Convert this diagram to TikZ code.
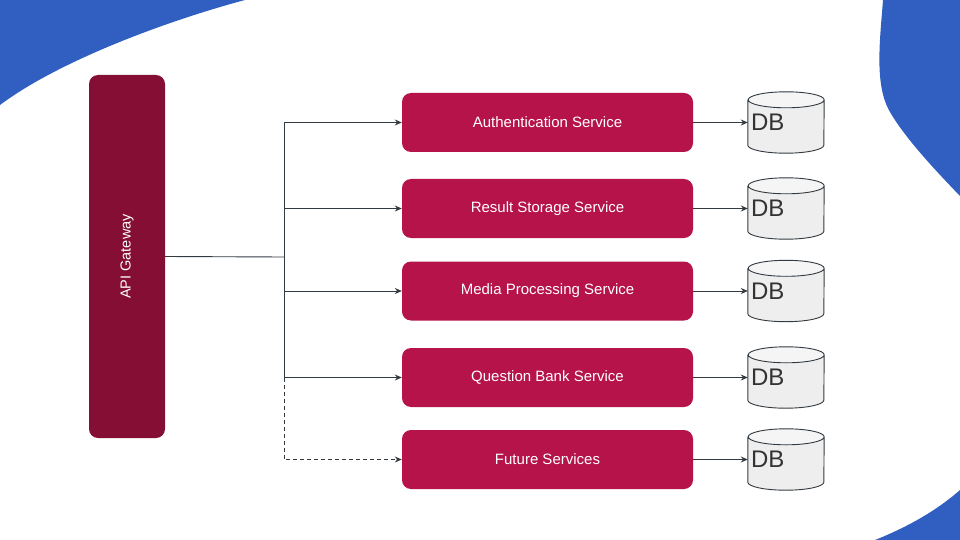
\documentclass[tikz,border=0pt]{standalone}
\usepackage{fontspec}
\setmainfont{Liberation Sans}
\usepackage{tikz}
\usetikzlibrary{arrows.meta, positioning, calc, backgrounds}
\definecolor{gatewayRed}{HTML}{850E35}
\definecolor{serviceRed}{HTML}{B5134A}
\definecolor{waveBlue}{HTML}{305FC1}
\definecolor{lineGray}{HTML}{333A40}
\definecolor{dbFill}{HTML}{EEEEEE}
\definecolor{dbTop}{HTML}{F5F5F5}
\definecolor{dbText}{HTML}{333333}

\begin{document}
\begin{tikzpicture}[x=1pt, y=-1pt,
    gateway/.style={rectangle, rounded corners=9pt, fill=gatewayRed, minimum width=76pt,
                    minimum height=363pt, inner sep=0pt, text=white, font=\fontsize{14.5}{16}\selectfont},
    service/.style={rectangle, rounded corners=9pt, fill=serviceRed, minimum width=291pt,
                    minimum height=59pt, inner sep=0pt, text=white, font=\fontsize{15}{17}\selectfont},
    dbbox/.style={rectangle, minimum width=76pt, minimum height=61pt, text width=70pt, inner xsep=3pt,
                  inner ysep=0pt, align=left, text=dbText, font=\fontsize{24}{26}\selectfont},
    dbline/.style={draw=lineGray, line width=0.9pt},
    link/.style={line width=0.9pt, color=lineGray},
    arrow/.style={-{Stealth[length=7pt, width=6pt]}, line width=0.9pt, color=lineGray},
]
\useasboundingbox (0,0) rectangle (960,540);

% Background waves
\fill[waveBlue] (0,0) -- (245,0) .. controls (170,20) and (60,60) .. (0,105) -- cycle;
\fill[waveBlue] (883,0) .. controls (880,40) and (874,85) .. (890,112)
    .. controls (905,138) and (935,170) .. (960,196) -- (960,0) -- cycle;
\fill[waveBlue] (875,540) .. controls (905,528) and (935,512) .. (960,490) -- (960,540) -- cycle;

% Gateway
\node[gateway] (gateway) at (127,256.5) {\rotatebox{90}{API Gateway}};

% Services
\node[service] (auth) at (547.5,122.5) {Authentication Service};
\node[service] (result) at (547.5,208.5) {Result Storage Service};
\node[service] (media) at (547.5,291) {Media Processing Service};
\node[service] (question) at (547.5,377.5) {Question Bank Service};
\node[service] (future) at (547.5,459.5) {Future Services};

% Databases
\node[dbbox] (db1) at (786,122.5) {DB};
\node[dbbox] (db2) at (786,208.5) {DB};
\node[dbbox] (db3) at (786,291) {DB};
\node[dbbox] (db4) at (786,377.5) {DB};
\node[dbbox] (db5) at (786,459.5) {DB};
\begin{scope}[on background layer]
\foreach \n in {db1,db2,db3,db4,db5} {
  \fill[dbFill] ($(\n.north west)+(0,8)$) -- ($(\n.south west)+(0,-8)$)
      arc[start angle=180, end angle=360, x radius=38pt, y radius=8pt]
      -- ($(\n.north east)+(0,8)$)
      arc[start angle=0, end angle=180, x radius=38pt, y radius=8pt] -- cycle;
  \fill[dbTop] ($(\n.north west)+(0,8)$)
      arc[start angle=180, end angle=540, x radius=38pt, y radius=8pt];
  \draw[dbline] ($(\n.north west)+(0,8)$) -- ($(\n.south west)+(0,-8)$)
      arc[start angle=180, end angle=360, x radius=38pt, y radius=8pt]
      -- ($(\n.north east)+(0,8)$)
      arc[start angle=0, end angle=180, x radius=38pt, y radius=8pt]
      arc[start angle=180, end angle=360, x radius=38pt, y radius=8pt];
}
\end{scope}

% Gateway to services
\coordinate (trunk) at (284,257);
\draw[link] (gateway.east) -- (trunk);
\draw[arrow] (trunk) |- (auth.west);
\draw[arrow] (trunk) |- (result.west);
\draw[arrow] (trunk) |- (media.west);
\draw[arrow] (trunk) |- (question.west);
\draw[arrow, dashed, dash pattern=on 4pt off 3pt] (trunk |- question.west) |- (future.west);

% Services to databases
\draw[arrow] (auth) -- (db1);
\draw[arrow] (result) -- (db2);
\draw[arrow] (media) -- (db3);
\draw[arrow] (question) -- (db4);
\draw[arrow] (future) -- (db5);
\end{tikzpicture}
\end{document}
